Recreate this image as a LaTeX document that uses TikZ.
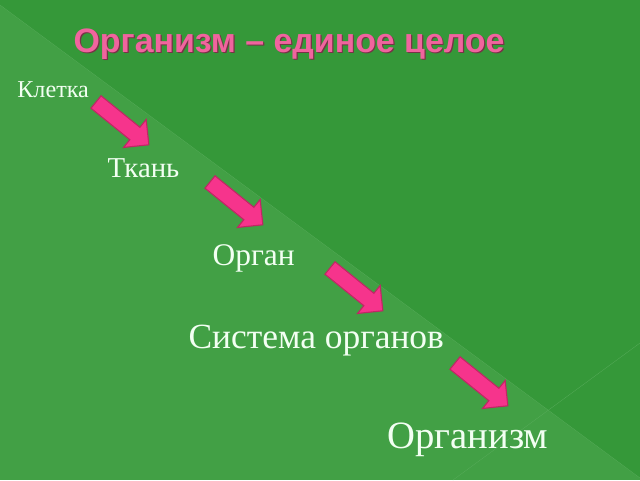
\documentclass[tikz,border=0pt]{standalone}
\usepackage{fontspec}
\setmainfont{Liberation Serif}
\newfontfamily\titlefont{Liberation Sans}
\definecolor{darkgreen}{RGB}{53,152,57}
\definecolor{lightgreen}{RGB}{66,160,69}
\definecolor{seamgreen}{RGB}{88,172,91}
\definecolor{arrowpink}{RGB}{246,52,140}
\definecolor{arrowedge}{RGB}{190,40,100}
\definecolor{titlepink}{RGB}{240,100,158}
\definecolor{titleshade}{RGB}{120,50,70}
\definecolor{labelwhite}{RGB}{242,255,242}
\tikzset{
  level/.style={anchor=base west, text=labelwhite, inner sep=0pt},
  pinkarrow/.style={fill=arrowpink, draw=arrowedge, line width=0.8pt, line join=miter}
}

\begin{document}
\begin{tikzpicture}[thick]
        \useasboundingbox (0,0) rectangle (16,-12);
        % background halves
        \fill[lightgreen] (0,0) rectangle (16,-12);
        \fill[darkgreen] (0,0) -- (16,0) -- (16,-11.95) -- (0,-0.125) -- cycle;
        \draw[seamgreen, very thin] (0,-0.125) -- (16,-11.95);
        \draw[seamgreen, very thin] (16,-8.575) -- (11.325,-12);
        % title
        \node[anchor=base west, inner sep=0pt, text=titleshade] at (1.855,-1.33) {\titlefont\bfseries\fontsize{24.1}{29}\selectfont Организм – единое целое};
        \node[anchor=base west, inner sep=0pt, text=titlepink] (title) at (1.825,-1.3) {\titlefont\bfseries\fontsize{24.1}{29}\selectfont Организм – единое целое};
        % levels
        \draw (0.42,-2.425)  node[level, font=\fontsize{17.2}{21}\selectfont] (cell) {Клетка};
        \draw (2.675,-4.425) node[level, font=\fontsize{20.5}{25}\selectfont] (tissue) {Ткань};
        \draw (5.3,-6.625)   node[level, font=\fontsize{22.4}{27}\selectfont] (organ) {Орган};
        \draw (4.7,-8.7)     node[level, font=\fontsize{25.2}{30}\selectfont] (system) {Система органов};
        \draw (9.675,-11.2)  node[level, font=\fontsize{27.5}{33}\selectfont] (organism) {Организм};
        % block arrows
        \draw[pinkarrow, shift={(2.4,-2.55)}, rotate=-39]
              (0,0.2) -- (1.25,0.2) -- (1.25,0.45) -- (1.7,0) -- (1.25,-0.45) -- (1.25,-0.2) -- (0,-0.2) -- cycle;
        \draw[pinkarrow, shift={(5.25,-4.55)}, rotate=-39]
              (0,0.2) -- (1.25,0.2) -- (1.25,0.45) -- (1.7,0) -- (1.25,-0.45) -- (1.25,-0.2) -- (0,-0.2) -- cycle;
        \draw[pinkarrow, shift={(8.25,-6.7)}, rotate=-39]
              (0,0.2) -- (1.25,0.2) -- (1.25,0.45) -- (1.7,0) -- (1.25,-0.45) -- (1.25,-0.2) -- (0,-0.2) -- cycle;
        \draw[pinkarrow, shift={(11.375,-9.075)}, rotate=-39]
              (0,0.2) -- (1.25,0.2) -- (1.25,0.45) -- (1.7,0) -- (1.25,-0.45) -- (1.25,-0.2) -- (0,-0.2) -- cycle;
    \end{tikzpicture}
\end{document}
